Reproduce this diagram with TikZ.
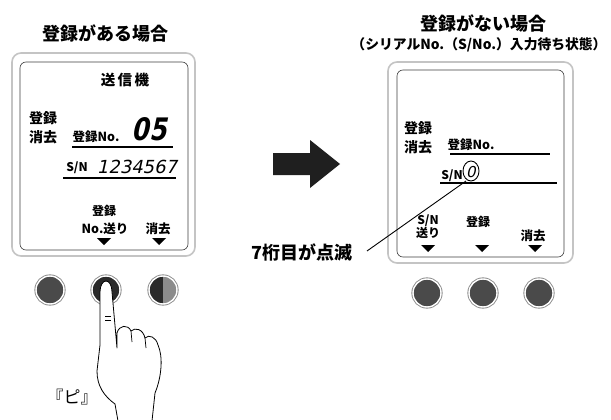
\documentclass[tikz,border=0pt]{standalone}
\usepackage{fontspec}
\usepackage{graphicx}
\setmainfont{Noto Sans CJK JP}
\newfontfamily\segfont[FakeSlant=0.22,FakeStretch=0.8]{DejaVu Sans}
\newfontfamily\serfont[FakeSlant=0.22]{DejaVu Sans}
\definecolor{btngray}{HTML}{4A4A4A}
\definecolor{btndark}{HTML}{2A2A2A}
\definecolor{framegray}{HTML}{C4C4C4}
\begin{document}
\begin{tikzpicture}[x=1pt,y=-1pt,
  lbl/.style={inner sep=0pt,font=\bfseries\fontsize{#1}{#1}\selectfont},
  lbl/.default=12.5,
  outerframe/.style={draw=framegray,line width=1.6,rounded corners=9pt,fill=white},
  innerframe/.style={draw=black!75,line width=0.6,rounded corners=6pt},
  rule/.style={line width=1.3},
  tri/.style={fill=black},
  btn/.style={circle,minimum size=28pt,inner sep=0pt,fill=btngray,draw=white,line width=1.4,
    preaction={draw=black!45,line width=3.2}},
  hand/.style={draw=black,line width=0.8,fill=white,line join=round}]
\useasboundingbox (0,0) rectangle (611,420);

% ---------- left: registered ----------
\node[lbl=18] (ttlA) at (105,33) {登録がある場合};
\draw[outerframe] (12,53) rectangle (195,256);
\draw[innerframe] (20,62) rectangle (188,250);
\node[lbl=14.5] (sender) at (125,80) {送\,信\,機};
\node[lbl=14] (regA) at (43,118) {登録};
\node[lbl=14] (delA) at (43,137) {消去};
\node[lbl=12.5] (noA) at (96,137) {登録No.};
\node[inner sep=0pt,font=\segfont\bfseries\fontsize{31}{31}\selectfont] (numA) at (149,129) {05};
\draw[rule] (72,147) -- (173,147);
\node[lbl=12] (snA) at (77,168) {S/N};
\node[inner sep=0pt,font=\serfont\fontsize{18}{18}\selectfont] (serA) at (137,167) {1234567};
\draw[rule] (63,178) -- (176,178);
\node[lbl=12] (keyA1) at (104,211) {登録};
\node[lbl=12.5] (keyA2) at (105,229) {No.送り};
\node[lbl=12.5] (keyA3) at (158,229) {消去};
\fill[tri] (97,238) -- (111,238) -- (104,245) -- cycle;
\fill[tri] (152,238) -- (166,238) -- (159,245) -- cycle;

% buttons, left
\node[btn] (bA1) at (50,290) {};
\node[btn,fill=btndark] (bA2) at (106,290) {};
\node[btn,fill=btndark,path picture={\fill[black!45] (path picture bounding box.north)
  rectangle (path picture bounding box.south east);}] (bA3) at (163,290) {};

% hand pressing the middle button
\draw[hand] (118,421) -- (115,404) .. controls (104,396) and (97,386) .. (97,371)
  -- (100,345) -- (100,292) .. controls (100,285) and (103,281) .. (106,281)
  .. controls (109,281) and (112,285) .. (112,292) -- (117,348) -- (117,333)
  .. controls (119,325) and (128,324) .. (131,331)
  .. controls (135,327) and (143,329) .. (145,338)
  .. controls (149,334) and (156,337) .. (158,345)
  .. controls (163,356) and (162,376) .. (155,393) -- (152,421);
\draw[line width=0.7] (105,316) -- (111,316) (105,320) -- (111,320);
\draw[line width=0.7] (131,331) -- (132,342) (145,338) -- (146,348);
\node[inner sep=0pt,font=\fontsize{17}{17}\selectfont] (beep) at (72,397) {『ピ』};

% ---------- arrow ----------
\fill[black!88] (273,153) -- (310,153) -- (310,140) -- (340,164) -- (310,188) -- (310,175) -- (273,175) -- cycle;
\node[lbl=18] (blink) at (302,252) {7桁目が点滅};

% ---------- right: not registered ----------
\node[lbl=18] (ttlB) at (483,23) {登録がない場合};
\node[inner sep=0pt] (subB) at (479,45) {\resizebox{255pt}{!}{\bfseries\fontsize{16}{16}\selectfont （シリアルNo.（S/No.）入力待ち状態）}};
\draw[outerframe] (388,62) rectangle (573,263);
\draw[innerframe] (397,70) rectangle (564,257);
\node[lbl=14] (regB) at (418,128) {登録};
\node[lbl=14] (delB) at (418,147) {消去};
\node[lbl=12.5] (noB) at (471,145) {登録No.};
\draw[rule] (450,154) -- (550,154);
\node[lbl=12] (snB) at (452,176) {S/N};
\node[inner sep=0pt,font=\serfont\fontsize{15}{15}\selectfont] (digB) at (471,172) {0};
\draw[line width=0.9] (471,171) ellipse (8 and 10);
\draw[rule] (440,183) -- (557,183);
\coordinate (leadEnd) at (367,251);
\draw[line width=0.9] (466,181) -- (leadEnd);
\node[lbl=12] (keyB1a) at (428,221) {S/N};
\node[lbl=12] (keyB1b) at (428,233) {送り};
\node[lbl=12] (keyB2) at (478,222) {登録};
\node[lbl=12.5] (keyB3) at (533,236) {消去};
\fill[tri] (421,245) -- (435,245) -- (428,252) -- cycle;
\fill[tri] (475,245) -- (489,245) -- (482,252) -- cycle;
\fill[tri] (528,245) -- (542,245) -- (535,252) -- cycle;

% buttons, right
\node[btn] (bB1) at (427,293) {};
\node[btn] (bB2) at (483,293) {};
\node[btn] (bB3) at (539,293) {};
\end{tikzpicture}
\end{document}
